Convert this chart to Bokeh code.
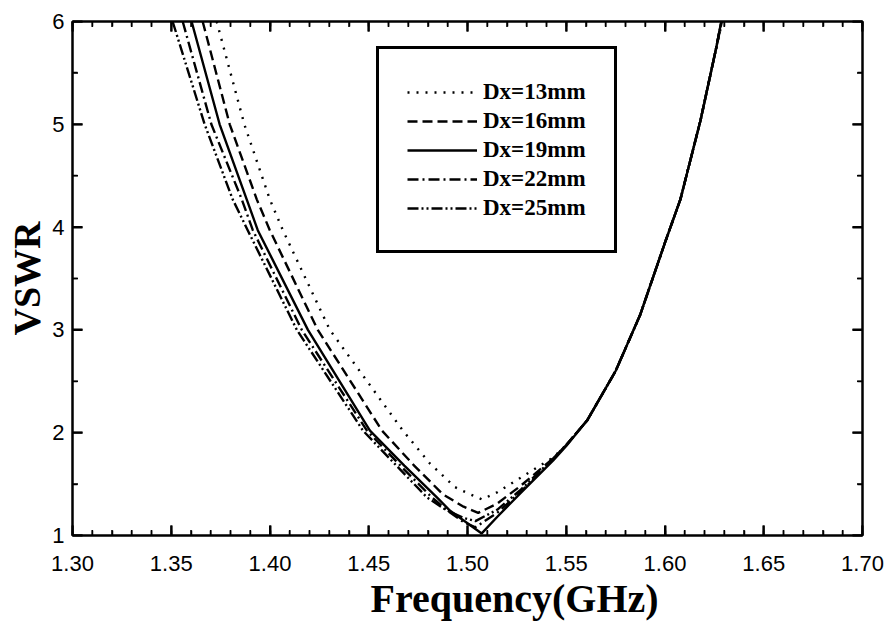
import math
from bokeh.plotting import figure
from bokeh.models import (Range1d, LinearAxis, FixedTicker, Legend, LegendItem,
                          NumeralTickFormatter, CustomJSTickFormatter, Title)
from bokeh.embed import file_html
from bokeh.resources import INLINE

# ---- axes / ticks ----
x_lo, x_hi = 1.30, 1.70
y_lo, y_hi = 1, 6
x_ticks = [1.30, 1.35, 1.40, 1.45, 1.50, 1.55, 1.60, 1.65, 1.70]
y_ticks = [1, 2, 3, 4, 5, 6]
x_minor = [round(1.30 + 0.01 * i, 2) for i in range(41)]
y_minor = [1.5, 2.5, 3.5, 4.5, 5.5]
x_title = "Frequency(GHz)"
y_title = "VSWR"

# ---- data ----
labels = ["Dx=13mm", "Dx=16mm", "Dx=19mm", "Dx=22mm", "Dx=25mm"]

f13 = [1.3730, 1.3870, 1.3999, 1.4065, 1.4303, 1.4673, 1.4810, 1.4937, 1.5003, 1.5074, 1.5150, 1.5267, 1.5434,
       1.5500, 1.5606, 1.5750, 1.5875, 1.6000, 1.6078, 1.6180, 1.6260, 1.6290]
v13 = [6.00, 5.00, 4.27, 3.97, 3.00, 2.02, 1.70, 1.47, 1.41, 1.35, 1.42, 1.56, 1.76,
       1.88, 2.12, 2.60, 3.15, 3.85, 4.27, 5.04, 5.75, 6.00]

f16 = [1.3659, 1.3796, 1.3933, 1.3999, 1.4242, 1.4567, 1.4730, 1.4876, 1.4980, 1.5054, 1.5150, 1.5267, 1.5434,
       1.5500, 1.5606, 1.5750, 1.5875, 1.6000, 1.6078, 1.6180, 1.6260, 1.6288]
v16 = [6.00, 5.00, 4.27, 3.97, 3.00, 2.02, 1.68, 1.40, 1.28, 1.22, 1.31, 1.48, 1.75,
       1.88, 2.12, 2.60, 3.15, 3.85, 4.27, 5.04, 5.75, 6.00]

f19 = [1.3603, 1.3745, 1.3882, 1.3938, 1.4192, 1.4506, 1.4680, 1.4845, 1.4912, 1.5000, 1.5072, 1.5150, 1.5267,
       1.5434, 1.5500, 1.5606, 1.5750, 1.5875, 1.6000, 1.6078, 1.6180, 1.6260, 1.6285]
v19 = [6.00, 5.00, 4.27, 3.97, 3.00, 2.02, 1.68, 1.37, 1.24, 1.12, 1.02, 1.18, 1.41,
       1.73, 1.87, 2.12, 2.60, 3.15, 3.85, 4.27, 5.04, 5.75, 6.00]

f22 = [1.3558, 1.3703, 1.3857, 1.3913, 1.4161, 1.4491, 1.4670, 1.4820, 1.4900, 1.4980, 1.5040, 1.5150, 1.5267,
       1.5434, 1.5500, 1.5606, 1.5750, 1.5875, 1.6000, 1.6078, 1.6180, 1.6260, 1.6285]
v22 = [6.00, 5.00, 4.27, 3.97, 3.00, 2.02, 1.66, 1.37, 1.24, 1.13, 1.08, 1.22, 1.42,
       1.74, 1.88, 2.12, 2.60, 3.15, 3.85, 4.27, 5.04, 5.75, 6.00]

f25 = [1.3507, 1.3669, 1.3811, 1.3887, 1.4136, 1.4471, 1.4650, 1.4795, 1.4890, 1.4980, 1.5040, 1.5150, 1.5267,
       1.5434, 1.5500, 1.5606, 1.5750, 1.5875, 1.6000, 1.6078, 1.6180, 1.6260, 1.6285]
v25 = [6.00, 5.00, 4.27, 3.97, 3.00, 2.02, 1.66, 1.37, 1.25, 1.17, 1.14, 1.25, 1.44,
       1.75, 1.88, 2.12, 2.60, 3.15, 3.85, 4.27, 5.04, 5.75, 6.00]

series_f = [f13, f16, f19, f22, f25]
series_v = [v13, v16, v19, v22, v25]
dashes = ["2 7", "10 5", "solid", "11 4 2 4", "11 3 2 3 2 3"]

# ---- figure ----
p = figure(width=885, height=630, output_backend="svg", toolbar_location=None,
           x_range=Range1d(x_lo, x_hi), y_range=Range1d(y_lo, y_hi),
           min_border_left=72, min_border_right=23, min_border_top=21, min_border_bottom=95)
p.xgrid.visible = False
p.ygrid.visible = False
p.outline_line_color = "black"
p.outline_line_width = 2
p.outline_line_alpha = 1
p.background_fill_color = "white"
p.border_fill_color = "white"

tick_font = "Liberation Sans"
lab_font = "Liberation Serif"

def style_axis(ax, show_labels=True):
    ax.major_tick_in = 10
    ax.major_tick_out = 0
    ax.minor_tick_in = 5
    ax.minor_tick_out = 0
    ax.axis_line_width = 2
    ax.major_tick_line_width = 2
    ax.minor_tick_line_width = 1.5
    ax.axis_line_color = "black"
    ax.major_tick_line_color = "black"
    ax.minor_tick_line_color = "black"
    if show_labels:
        ax.major_label_text_font = tick_font
        ax.major_label_text_font_size = "22px"
        ax.major_label_text_color = "black"
    else:
        ax.formatter = CustomJSTickFormatter(code="return ''")
        ax.major_label_standoff = 0

xa = p.xaxis[0]
xa.ticker = FixedTicker(ticks=x_ticks, minor_ticks=x_minor)
xa.formatter = NumeralTickFormatter(format="0.00")
style_axis(xa)
xa.major_label_standoff = 20

ya = p.yaxis[0]
ya.ticker = FixedTicker(ticks=y_ticks, minor_ticks=y_minor)
style_axis(ya)
ya.major_label_standoff = 8
ya.axis_label = y_title
ya.axis_label_text_font = lab_font
ya.axis_label_text_font_style = "bold"
ya.axis_label_text_font_size = "38px"
ya.axis_label_standoff = 1
ya.axis_label_text_color = "black"

top = LinearAxis(ticker=FixedTicker(ticks=x_ticks, minor_ticks=x_minor))
style_axis(top, show_labels=False)
p.add_layout(top, "above")
right = LinearAxis(ticker=FixedTicker(ticks=y_ticks, minor_ticks=y_minor))
style_axis(right, show_labels=False)
p.add_layout(right, "right")

# inward tick marks (clipped to the frame, so only the inner half shows)
x_min_only = [t for t in x_minor if all(abs(t - m) > 1e-9 for m in x_ticks)]
for yy in (y_lo, y_hi):
    p.scatter(x=x_ticks, y=[yy] * len(x_ticks), marker="dash", angle=math.pi / 2,
              size=20, line_color="black", line_width=2)
    p.scatter(x=x_min_only, y=[yy] * len(x_min_only), marker="dash", angle=math.pi / 2,
              size=11, line_color="black", line_width=1.5)
for xx in (x_lo, x_hi):
    p.scatter(x=[xx] * len(y_ticks), y=y_ticks, marker="dash", size=20,
              line_color="black", line_width=2)
    p.scatter(x=[xx] * len(y_minor), y=y_minor, marker="dash", size=11,
              line_color="black", line_width=1.5)

items = []
for lab, fx, vy, d in zip(labels, series_f, series_v, dashes):
    r = p.line(fx, vy, line_color="black", line_width=2.4, line_dash=d)
    items.append(LegendItem(label=lab, renderers=[r]))

legend = Legend(items=items, location=(304, 282), glyph_width=70, glyph_height=20,
                label_standoff=6, label_height=29, spacing=0, padding=28, margin=0,
                label_text_font=lab_font, label_text_font_style="bold",
                label_text_font_size="23px", label_text_color="black",
                border_line_color="black", border_line_width=3, border_line_alpha=1,
                background_fill_color="white", background_fill_alpha=1)
p.add_layout(legend)

xt = Title(text=x_title, align="left", offset=298, standoff=0,
           text_font=lab_font, text_font_style="bold", text_font_size="40px",
           text_color="black")
p.add_layout(xt, "below")

open("out.html", "w").write(file_html(p, INLINE))
